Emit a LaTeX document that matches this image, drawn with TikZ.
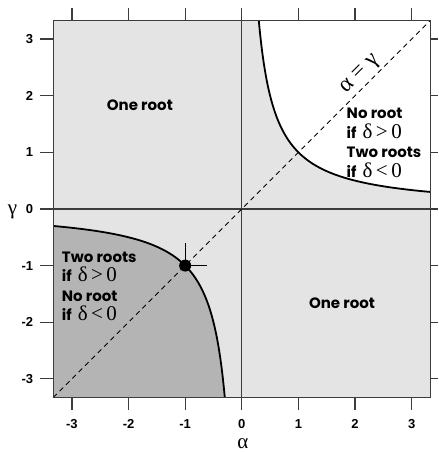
\documentclass[tikz,border=0pt]{standalone}
\usepackage{fontspec}
\usetikzlibrary{positioning}
\newfontfamily\boldsans{Poppins}
\newfontfamily\ticksans{Liberation Sans}
\newfontfamily\greekserif{Liberation Serif}
\definecolor{lightregion}{RGB}{228,228,228}
\definecolor{darkregion}{RGB}{180,180,180}
\definecolor{axisgray}{RGB}{60,60,60}
\newcommand{\deltacond}[1]{if\hspace{6pt}{\greekserif\mdseries\fontsize{21}{19.5}\selectfont δ\,#1\,0}}

\begin{document}
\begin{tikzpicture}[x=56.6pt, y=56.6pt,
            curve/.style={line width=1.8pt, black},
            axisline/.style={line width=1.3pt, axisgray},
            tickmark/.style={line width=1.2pt, axisgray},
            ticklabel/.style={font=\ticksans\bfseries\fontsize{13}{15}\selectfont, inner sep=0pt},
            greeklabel/.style={font=\greekserif\fontsize{21}{22}\selectfont, inner sep=0pt},
            regionlabel/.style={font=\boldsans\bfseries\fontsize{15}{19.5}\selectfont, align=left, inner sep=0pt}]

        \useasboundingbox (-4.27,-4.31) rectangle (3.47,3.69);

        % regions
        \fill[lightregion] (-3.33,-3.33) rectangle (3.33,3.33);
        \fill[white] (0.3,3.33) -- plot[domain=-1.203:1.203, samples=80, smooth] ({exp(\x)},{exp(-\x)}) -- (3.33,3.33) -- cycle;
        \fill[darkregion] (-3.33,-3.33) -- plot[domain=-1.203:1.203, samples=80, smooth] ({-exp(-\x)},{-exp(\x)}) -- cycle;

        % axes and diagonal
        \draw[axisline] (0,-3.33) -- (0,3.33);
        \draw[axisline] (-3.33,0) -- (3.33,0);
        \draw[line width=0.9pt, dash pattern=on 5pt off 4pt] (-3.33,-3.33) -- (3.33,3.33);

        % boundary curves
        \draw[curve] plot[domain=-1.203:1.203, samples=80, smooth] ({exp(\x)},{exp(-\x)});
        \draw[curve] plot[domain=-1.203:1.203, samples=80, smooth] ({-exp(\x)},{-exp(-\x)});

        \draw[line width=1pt] (-1,-1) -- (-1,-0.6);
        \draw[line width=1pt] (-1,-1) -- (-0.62,-1);
        \fill (-1,-1) circle (6pt);

        \draw[line width=1.4pt, axisgray] (-3.33,-3.33) rectangle (3.33,3.33);

        % ticks
        \foreach \v in {-3,...,3} {
            \draw[tickmark] (\v,-3.33) -- (\v,-3.55);
            \draw[tickmark] (\v,3.33) -- (\v,3.55);
            \draw[tickmark] (-3.33,\v) -- (-3.56,\v);
            \draw[tickmark] (3.33,\v) -- (3.47,\v);
            \node[ticklabel] (xt\v) at (\v,-3.80) {\v};
            \node[ticklabel, anchor=east] (yt\v) at (-3.68,\v) {\v};
        }

        \node[greeklabel] (alpha) at (0.02,-4.14) {α};
        \node[greeklabel] (gamma) at (-4.05,-0.05) {γ};
        \node[greeklabel, font=\greekserif\fontsize{23}{24}\selectfont, rotate=45] (diag) at (2.10,2.37) {α = γ};

        % labels of the regions
        \node[regionlabel] (oneup) at (-1.80,1.84) {One root};
        \node[regionlabel] (onedown) at (1.77,-1.67) {One root};
        \node[regionlabel, anchor=north west] (upright) at (1.85,1.78)
            {No root\\\deltacond{>}\\Two roots\\\deltacond{<}};
        \node[regionlabel, anchor=north west] (downleft) at (-3.18,-0.75)
            {Two roots\\\deltacond{>}\\No root\\\deltacond{<}};

    \end{tikzpicture}
\end{document}
